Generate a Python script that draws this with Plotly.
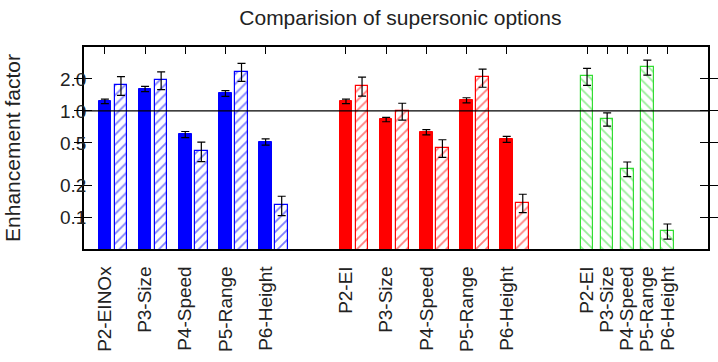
import plotly.graph_objects as go

# ---- data ----
blue_labels = ["P2-EINOx", "P3-Size", "P4-Speed", "P5-Range", "P6-Height"]
red_labels = ["P2-EI", "P3-Size", "P4-Speed", "P5-Range", "P6-Height"]
green_labels = ["P2-EI", "P3-Size", "P4-Speed", "P5-Range", "P6-Height"]

blue_solid = [1.23, 1.61, 0.60, 1.46, 0.51]
blue_solid_err = [0.06, 0.09, 0.04, 0.09, 0.035]
blue_hatch = [1.75, 1.96, 0.42, 2.35, 0.13]
blue_hatch_err = [0.35, 0.37, 0.087, 0.45, 0.027]

red_solid = [1.23, 0.83, 0.63, 1.26, 0.54]
red_solid_err = [0.06, 0.04, 0.035, 0.07, 0.035]
red_hatch = [1.73, 1.00, 0.45, 2.07, 0.137]
red_hatch_err = [0.35, 0.18, 0.085, 0.40, 0.027]

green_hatch = [2.13, 0.84, 0.285, 2.59, 0.074]
green_hatch_err = [0.39, 0.12, 0.045, 0.42, 0.012]

y_tickvals = [0.1, 0.2, 0.5, 1.0, 2.0]
y_ticktext = ["0.1", "0.2", "0.5", "1.0", "2.0"]

# ---- layout positions ----
blue_x = [0 + 2 * i for i in range(5)]
red_x = [12 + 2 * i for i in range(5)]
green_x = [24 + i for i in range(5)]
offset = 0.8
bw = 0.63

BLUE = "#0000ff"
RED = "#ff0000"
GREEN = "#33dd33"

def err(arr):
    return dict(type="data", array=arr, visible=True, color="black",
                thickness=1.2, width=4)

fig = go.Figure()

fig.add_trace(go.Bar(x=blue_x, y=blue_solid, width=bw, error_y=err(blue_solid_err),
                     marker=dict(color=BLUE, line=dict(color=BLUE, width=1))))
fig.add_trace(go.Bar(x=[v + offset for v in blue_x], y=blue_hatch, width=bw,
                     error_y=err(blue_hatch_err),
                     marker=dict(color="white", line=dict(color=BLUE, width=1.2),
                                 pattern=dict(shape="/", fgcolor=BLUE, bgcolor="white",
                                              size=7, solidity=0.25))))
fig.add_trace(go.Bar(x=red_x, y=red_solid, width=bw, error_y=err(red_solid_err),
                     marker=dict(color=RED, line=dict(color=RED, width=1))))
fig.add_trace(go.Bar(x=[v + offset for v in red_x], y=red_hatch, width=bw,
                     error_y=err(red_hatch_err),
                     marker=dict(color="white", line=dict(color=RED, width=1.2),
                                 pattern=dict(shape="/", fgcolor=RED, bgcolor="white",
                                              size=7, solidity=0.25))))
fig.add_trace(go.Bar(x=green_x, y=green_hatch, width=bw, error_y=err(green_hatch_err),
                     marker=dict(color="white", line=dict(color=GREEN, width=1.2),
                                 pattern=dict(shape="\\", fgcolor=GREEN, bgcolor="white",
                                              size=7, solidity=0.25))))

all_x = blue_x + red_x + green_x
all_labels = blue_labels + red_labels + green_labels
xr = [-1.04, 30.02]

# invisible trace to anchor top axis
fig.add_trace(go.Scatter(x=all_x, y=[1.0] * len(all_x), xaxis="x2", mode="markers",
                         marker=dict(opacity=0), hoverinfo="skip"))

fig.add_shape(type="line", xref="paper", yref="y", x0=0, x1=1, y0=1.0, y1=1.0,
              line=dict(color="black", width=1.2), layer="above")

FAM = "Liberation Sans, Arial, sans-serif"
font = dict(family=FAM, size=19, color="#222")
big = dict(family=FAM, size=21, color="#222")

fig.update_layout(
    width=718, height=362,
    margin=dict(l=84, r=8, t=47, b=113),
    paper_bgcolor="white", plot_bgcolor="white",
    showlegend=False, barmode="overlay", bargap=0,
    font=font,
    title=dict(text="Comparision of supersonic options", x=0.507, xref="paper",
               y=0.95, yref="container", xanchor="center", yanchor="middle",
               font=big),
    xaxis=dict(range=xr, tickvals=all_x, ticktext=all_labels, tickangle=-90,
               ticks="", showline=True, linecolor="black", linewidth=1.5,
               mirror=True, showgrid=False, zeroline=False,
               ticklabelstandoff=8, tickfont=font),
    xaxis2=dict(range=xr, overlaying="x", side="top", tickvals=all_x,
                ticks="inside", ticklen=7, tickcolor="black", tickwidth=1.2,
                showticklabels=False, showgrid=False, zeroline=False,
                showline=False),
    yaxis=dict(type="log", range=[-1.30103, 0.60206], tickvals=y_tickvals,
               ticktext=y_ticktext, ticks="inside", ticklen=8, tickcolor="black",
               tickwidth=1.2, mirror="allticks", showline=True, linecolor="black",
               linewidth=1.5, showgrid=False, zeroline=False, tickfont=font,
               ticklabelstandoff=-8,
               title=dict(text="Enhancement factor", font=big, standoff=34)),
)

fig.write_html("out.html")
